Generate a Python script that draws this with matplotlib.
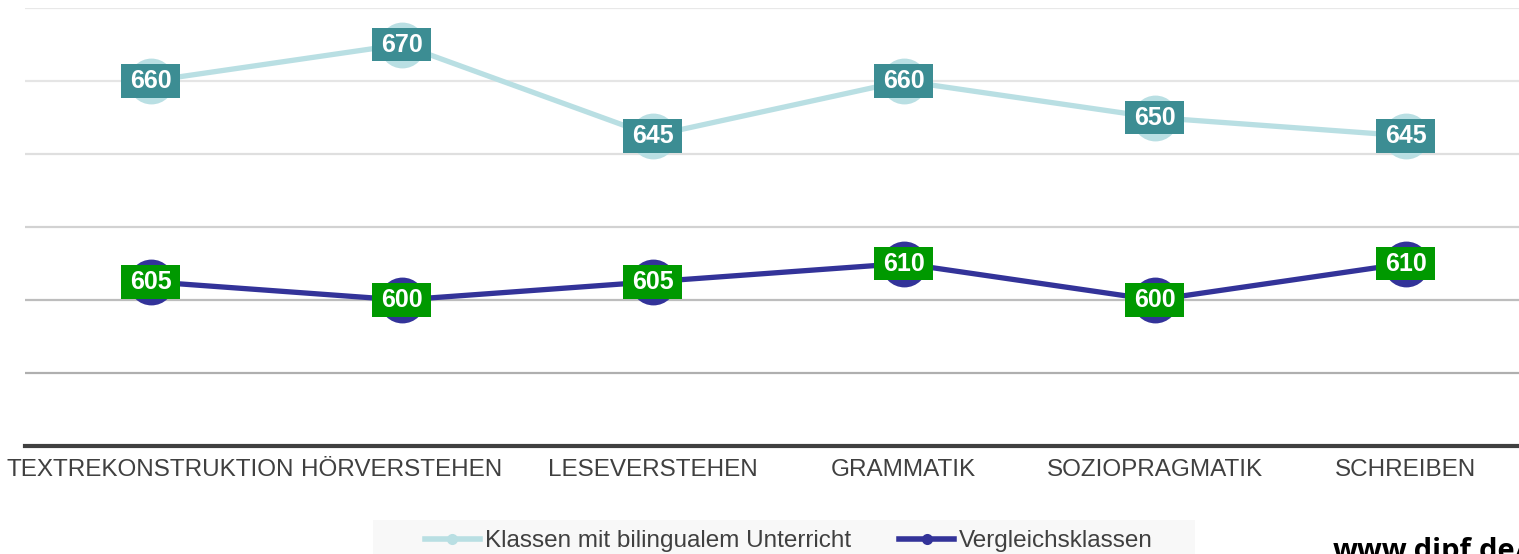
import matplotlib
matplotlib.use("Agg")
import matplotlib.pyplot as plt
from matplotlib.path import Path
from matplotlib.lines import Line2D
from matplotlib.patches import Rectangle

categories = ["TEXTREKONSTRUKTION", "HÖRVERSTEHEN", "LESEVERSTEHEN",
              "GRAMMATIK", "SOZIOPRAGMATIK", "SCHREIBEN"]
bilingual = [660, 670, 645, 660, 650, 645]
vergleich = [605, 600, 605, 610, 600, 610]
series_names = ["Klassen mit bilingualem Unterricht", "Vergleichsklassen"]
grid_values = [580, 600, 620, 640, 660, 680]
grid_colors = ["#AFAFAF", "#BDBDBD", "#D2D2D2", "#DFDFDF", "#E5E5E5", "#E8E8E8"]

LIGHT = "#B9DFE3"
LIGHT_LBL = "#3C8D93"
DARK = "#333399"
DARK_LBL = "#009900"
TXT = "#404040"

W, H = 1519, 554
fig = plt.figure(figsize=(W / 100, H / 100), dpi=100)
ax = fig.add_axes([25 / W, 108 / H, 1506 / W, 438 / H])
ax.set_xlim(-0.5, 5.5)
ax.set_ylim(560, 680)
ax.patch.set_visible(False)
for s in ["top", "right", "left"]:
    ax.spines[s].set_visible(False)
ax.spines["bottom"].set_color("#404040")
ax.spines["bottom"].set_linewidth(3)
ax.spines["bottom"].set_zorder(5)
ax.set_yticks([])
for v, c in zip(grid_values, grid_colors):
    ax.axhline(v, color=c, lw=1.6, zorder=0)

x = list(range(len(categories)))
ax.set_xticks(x)
ax.set_xticklabels(categories, fontsize=17.5, color=TXT, family="Liberation Sans")
ax.tick_params(axis="x", length=0, pad=9)

ax.plot(x, bilingual, color=LIGHT, lw=3.8, marker="o", ms=33, mec="none",
        mfc=LIGHT, zorder=2, solid_capstyle="round")
ax.plot(x, vergleich, color=DARK, lw=3.8, marker="o", ms=33, mec="none",
        mfc=DARK, zorder=2, solid_capstyle="round")


def labelbox(x0, y0, width, height, mutation_size):
    px = 0.33 * mutation_size
    py = 0.19 * mutation_size
    x0, y0 = x0 - px, y0 - py
    x1, y1 = x0 + width + 2 * px, y0 + height + 2 * py
    return Path([(x0, y0), (x1, y0), (x1, y1), (x0, y1), (x0, y0)], closed=True)


for xi, v in zip(x, bilingual):
    ax.text(xi, v, str(v), ha="center", va="center", fontsize=18, fontweight="bold",
            color="white", family="Liberation Sans", zorder=4,
            bbox=dict(boxstyle=labelbox, fc=LIGHT_LBL, ec="none"))
for xi, v in zip(x, vergleich):
    ax.text(xi, v, str(v), ha="center", va="center", fontsize=18, fontweight="bold",
            color="white", family="Liberation Sans", zorder=4,
            bbox=dict(boxstyle=labelbox, fc=DARK_LBL, ec="none"))

# legend background
fig.patches.append(Rectangle((373 / W, 0), (1195 - 373) / W, (554 - 520) / H,
                             transform=fig.transFigure, fc="#F8F8F8", ec="none", zorder=0))
handles = [Line2D([], [], color=LIGHT, lw=4, marker="o", ms=8, mec="none"),
           Line2D([], [], color=DARK, lw=4, marker="o", ms=8, mec="none")]
leg = fig.legend(handles, series_names, loc="center left", ncol=2,
                 bbox_to_anchor=(425 / W, 1 - 541 / H), frameon=False,
                 borderaxespad=0, borderpad=0,
                 handlelength=2.25, handletextpad=0.2, columnspacing=2.0,
                 prop={"family": ["Liberation Sans Narrow", "Liberation Sans"], "size": 17.5})
for t in leg.get_texts():
    t.set_color(TXT)

fig.text(1333 / W, 1 - 537 / H, "www.dipf.de/", ha="left", va="top",
         fontsize=21, fontweight="bold", color="black", family="Open Sans")

fig.savefig("out.png", dpi=100)
